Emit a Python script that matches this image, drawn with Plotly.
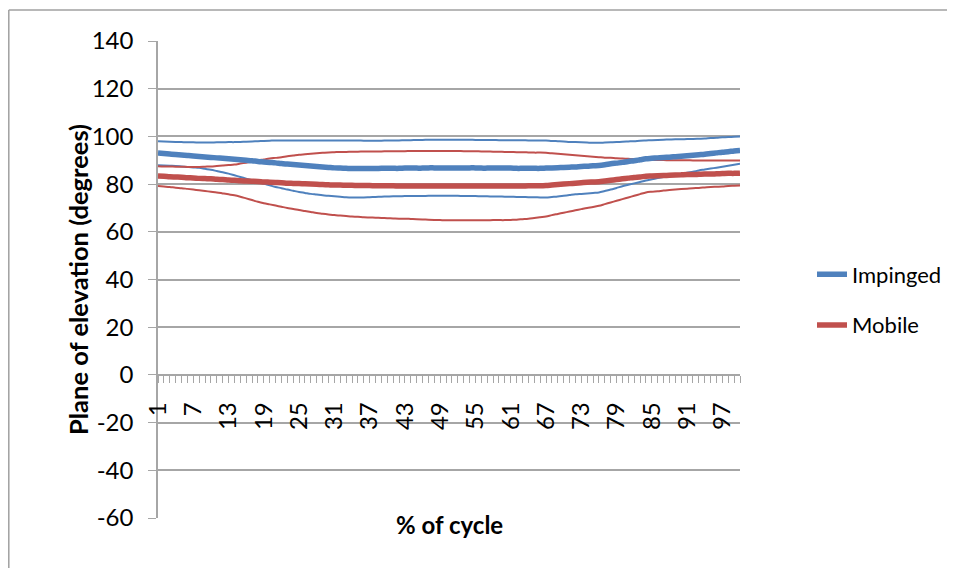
import plotly.graph_objects as go

# % of cycle, 1..100
ciclo = list(range(1, 101))
etiquetas_x = [1, 7, 13, 19, 25, 31, 37, 43, 49, 55, 61, 67, 73, 79, 85, 91, 97]
etiquetas_y = [-60, -40, -20, 0, 20, 40, 60, 80, 100, 120, 140]

# impinged: mean and +/- 1 sd
impinged_media = [
    93.0, 92.8, 92.6, 92.4, 92.2, 92.0, 91.8, 91.6, 91.4, 91.2,
    91.0, 90.8, 90.6, 90.4, 90.2, 90.0, 89.8, 89.5, 89.3, 89.1,
    88.9, 88.6, 88.4, 88.2, 88.0, 87.8, 87.6, 87.4, 87.2, 87.0,
    86.8, 86.7, 86.6, 86.5, 86.5, 86.5, 86.5, 86.5, 86.6, 86.6,
    86.6, 86.6, 86.7, 86.7, 86.7, 86.7, 86.8, 86.8, 86.8, 86.8,
    86.8, 86.8, 86.8, 86.8, 86.8, 86.7, 86.7, 86.7, 86.7, 86.7,
    86.7, 86.6, 86.6, 86.6, 86.6, 86.6, 86.7, 86.8, 86.9, 87.0,
    87.1, 87.2, 87.4, 87.5, 87.7, 87.8, 88.1, 88.5, 88.8, 89.1,
    89.5, 89.8, 90.2, 90.6, 90.8, 91.0, 91.2, 91.3, 91.5, 91.7,
    91.9, 92.1, 92.3, 92.5, 92.8, 93.1, 93.4, 93.6, 93.9, 94.1]
impinged_sup = [
    98.0, 97.9, 97.8, 97.7, 97.6, 97.5, 97.5, 97.4, 97.4, 97.4,
    97.5, 97.5, 97.6, 97.6, 97.7, 97.8, 97.9, 98.0, 98.1, 98.2,
    98.3, 98.3, 98.3, 98.3, 98.3, 98.3, 98.3, 98.3, 98.3, 98.3,
    98.3, 98.3, 98.3, 98.3, 98.3, 98.2, 98.2, 98.2, 98.2, 98.3,
    98.3, 98.3, 98.4, 98.4, 98.5, 98.5, 98.6, 98.6, 98.6, 98.6,
    98.6, 98.6, 98.6, 98.6, 98.5, 98.5, 98.5, 98.5, 98.4, 98.4,
    98.4, 98.4, 98.4, 98.3, 98.3, 98.3, 98.3, 98.1, 98.0, 97.9,
    97.7, 97.6, 97.5, 97.4, 97.3, 97.3, 97.4, 97.5, 97.6, 97.8,
    97.9, 98.0, 98.2, 98.3, 98.4, 98.5, 98.6, 98.7, 98.8, 98.8,
    98.9, 98.9, 99.0, 99.1, 99.3, 99.4, 99.6, 99.7, 99.9, 100.0]
impinged_inf = [
    87.9, 87.8, 87.7, 87.6, 87.4, 87.2, 87.0, 86.8, 86.4, 86.0,
    85.5, 85.0, 84.4, 83.7, 83.0, 82.3, 81.6, 80.9, 80.2, 79.5,
    78.8, 78.3, 77.7, 77.2, 76.7, 76.3, 75.9, 75.6, 75.3, 75.1,
    74.9, 74.7, 74.5, 74.4, 74.4, 74.4, 74.5, 74.6, 74.7, 74.8,
    74.9, 74.9, 75.0, 75.0, 75.0, 75.0, 75.1, 75.1, 75.1, 75.1,
    75.1, 75.1, 75.0, 75.0, 75.0, 74.9, 74.9, 74.8, 74.8, 74.7,
    74.7, 74.6, 74.6, 74.5, 74.5, 74.4, 74.4, 74.6, 74.8, 75.1,
    75.4, 75.7, 75.9, 76.1, 76.3, 76.5, 77.1, 77.7, 78.4, 79.1,
    79.7, 80.3, 80.9, 81.5, 82.0, 82.5, 83.0, 83.5, 83.9, 84.3,
    84.8, 85.2, 85.7, 86.1, 86.5, 86.9, 87.3, 87.7, 88.1, 88.5]

# mobile: mean and +/- 1 sd
mobile_media = [
    83.4, 83.3, 83.1, 83.0, 82.9, 82.7, 82.6, 82.4, 82.3, 82.2,
    82.0, 81.9, 81.7, 81.6, 81.4, 81.3, 81.2, 81.1, 80.9, 80.8,
    80.7, 80.6, 80.4, 80.3, 80.2, 80.1, 80.0, 79.9, 79.8, 79.7,
    79.6, 79.6, 79.5, 79.5, 79.4, 79.4, 79.4, 79.3, 79.3, 79.3,
    79.3, 79.2, 79.2, 79.2, 79.2, 79.2, 79.2, 79.2, 79.2, 79.2,
    79.2, 79.2, 79.2, 79.2, 79.2, 79.2, 79.2, 79.2, 79.2, 79.2,
    79.2, 79.2, 79.2, 79.3, 79.3, 79.3, 79.4, 79.6, 79.8, 80.0,
    80.2, 80.4, 80.6, 80.8, 80.9, 81.0, 81.3, 81.6, 81.9, 82.2,
    82.5, 82.8, 83.0, 83.3, 83.4, 83.5, 83.6, 83.7, 83.8, 83.9,
    84.0, 84.0, 84.1, 84.2, 84.2, 84.3, 84.4, 84.5, 84.5, 84.6]
mobile_sup = [
    87.5, 87.4, 87.4, 87.3, 87.3, 87.2, 87.2, 87.2, 87.3, 87.4,
    87.6, 87.8, 88.0, 88.2, 88.6, 89.0, 89.4, 89.9, 90.3, 90.7,
    91.0, 91.3, 91.7, 92.0, 92.3, 92.5, 92.7, 92.9, 93.1, 93.3,
    93.4, 93.5, 93.5, 93.6, 93.6, 93.7, 93.7, 93.7, 93.7, 93.8,
    93.8, 93.8, 93.8, 93.9, 93.9, 93.9, 93.9, 93.9, 93.9, 93.9,
    93.9, 93.9, 93.8, 93.8, 93.8, 93.7, 93.7, 93.6, 93.6, 93.5,
    93.5, 93.4, 93.4, 93.3, 93.2, 93.2, 93.1, 92.9, 92.7, 92.5,
    92.3, 92.1, 91.9, 91.7, 91.5, 91.3, 91.1, 91.0, 90.8, 90.7,
    90.6, 90.5, 90.3, 90.2, 90.2, 90.1, 90.1, 90.0, 90.0, 90.0,
    90.0, 89.9, 89.9, 89.9, 89.9, 89.9, 89.9, 89.9, 89.9, 89.9]
mobile_inf = [
    79.2, 79.0, 78.8, 78.5, 78.3, 78.0, 77.7, 77.4, 77.1, 76.8,
    76.5, 76.1, 75.7, 75.3, 74.7, 74.0, 73.3, 72.6, 72.0, 71.5,
    71.0, 70.5, 70.0, 69.6, 69.1, 68.7, 68.3, 67.9, 67.6, 67.3,
    67.0, 66.8, 66.6, 66.4, 66.3, 66.1, 66.0, 65.9, 65.8, 65.7,
    65.6, 65.5, 65.5, 65.4, 65.3, 65.2, 65.1, 65.0, 64.9, 64.8,
    64.8, 64.8, 64.8, 64.8, 64.8, 64.8, 64.8, 64.9, 64.9, 64.9,
    65.0, 65.1, 65.3, 65.5, 65.8, 66.1, 66.4, 67.0, 67.5, 68.0,
    68.5, 69.0, 69.5, 70.0, 70.4, 70.9, 71.6, 72.3, 73.0, 73.7,
    74.4, 75.1, 75.8, 76.5, 76.8, 77.0, 77.3, 77.5, 77.7, 77.9,
    78.1, 78.3, 78.4, 78.6, 78.8, 78.9, 79.0, 79.2, 79.3, 79.4]

AZUL = '#4F81BD'
ROJO = '#C0504D'
GRIS = '#A6A6A6'
FUENTE = 'Lato, Calibri, sans-serif'

# la página añade 8 px de margen al body: se compensa aquí
# (y el lienzo se achica para que no salgan barras de desplazamiento)
W, H = 945, 560
IZQ, ARR = 150, 33
ANCHO, ALTO = 582, 477


def px_x(p):
    return (p - 8 - IZQ) / ANCHO


def px_y(p):
    return (ARR + ALTO - (p - 8)) / ALTO


fig = go.Figure()
for serie, color in [(impinged_sup, AZUL), (impinged_inf, AZUL),
                     (mobile_sup, ROJO), (mobile_inf, ROJO)]:
    fig.add_trace(go.Scatter(x=ciclo, y=serie, mode='lines', showlegend=False,
                             line=dict(color=color, width=2, shape='spline'),
                             hoverinfo='skip'))
fig.add_trace(go.Scatter(x=ciclo, y=impinged_media, mode='lines', name='Impinged',
                         legendgroup='imp',
                         line=dict(color=AZUL, width=5.5, shape='spline')))
fig.add_trace(go.Scatter(x=ciclo, y=mobile_media, mode='lines', name='Mobile',
                         legendgroup='mob',
                         line=dict(color=ROJO, width=5.5, shape='spline')))

fig.update_layout(
    width=W, height=H,
    margin=dict(l=IZQ, r=W - IZQ - ANCHO, t=ARR, b=H - ARR - ALTO,
                autoexpand=False),
    paper_bgcolor='white', plot_bgcolor='white',
    font=dict(family=FUENTE, size=24, color='black'),
    legend=dict(x=px_x(812), xanchor='left', y=px_y(300), yanchor='middle',
                tracegroupgap=19, font=dict(size=22)),
    xaxis=dict(range=[1, 100], anchor='free', position=0.3,
               showline=True, linecolor=GRIS, linewidth=1.5,
               showgrid=False, zeroline=False,
               tickmode='array', tickvals=etiquetas_x,
               ticktext=[str(v) for v in etiquetas_x],
               ticks='outside', ticklen=7, tickcolor=GRIS, tickangle=-90,
               ticklabelstandoff=10,
               minor=dict(ticks='outside', dtick=1, tick0=1, ticklen=7,
                          tickcolor=GRIS, showgrid=False)),
    yaxis=dict(range=[-60, 140], tickmode='array', tickvals=etiquetas_y,
               ticktext=[str(v) for v in etiquetas_y],
               showgrid=True, gridcolor=GRIS,
               gridwidth=1.5, zeroline=False, showline=True, linecolor=GRIS,
               linewidth=1.5, ticks='outside', ticklen=8, tickcolor=GRIS,
               ticklabelstandoff=10),
    annotations=[
        dict(text='<b>Plane of elevation (degrees)</b>', textangle=-90,
             xref='paper', yref='paper', x=px_x(61), y=px_y(280),
             showarrow=False, font=dict(size=25.5)),
        dict(text='<b>% of cycle</b>', xref='paper', yref='paper',
             x=px_x(449), y=px_y(541),
             showarrow=False, font=dict(size=24)),
    ],
    shapes=[
        dict(type='line', xref='paper', yref='paper', x0=px_x(8.8), x1=2,
             y0=px_y(10), y1=px_y(10),
             line=dict(color='#A0A0A0', width=1.5)),
        dict(type='line', xref='paper', yref='paper', x0=px_x(8.8),
             x1=px_x(8.8), y0=px_y(10), y1=-1,
             line=dict(color='#A0A0A0', width=1.5)),
    ],
)

fig.write_html("out.html")
